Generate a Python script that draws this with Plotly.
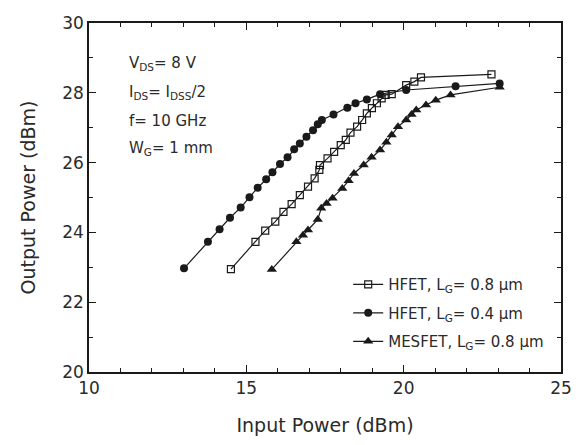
import plotly.graph_objects as go

# HFET, LG = 0.8 um (open squares)
hfet08_x = [14.51, 15.29, 15.60, 15.92, 16.18, 16.44, 16.70, 16.96, 17.17, 17.32, 17.34,
            17.58, 17.79, 18.00, 18.16, 18.31, 18.52, 18.68, 18.83, 18.99, 19.15, 19.30,
            19.43, 19.62, 20.08, 20.34, 20.55, 22.79]
hfet08_y = [22.95, 23.73, 24.05, 24.31, 24.59, 24.81, 25.07, 25.31, 25.55, 25.79, 25.93,
            26.12, 26.31, 26.50, 26.65, 26.86, 27.03, 27.22, 27.41, 27.56, 27.70, 27.84,
            27.94, 27.96, 28.22, 28.32, 28.44, 28.53]

# HFET, LG = 0.4 um (filled circles)
hfet04_x = [13.02, 13.78, 14.15, 14.48, 14.82, 15.10, 15.36, 15.63, 15.83, 16.07, 16.31,
            16.52, 16.70, 16.91, 17.12, 17.27, 17.40, 17.77, 18.21, 18.47, 18.83, 19.25,
            20.08, 21.65, 23.05]
hfet04_y = [22.97, 23.73, 24.09, 24.42, 24.71, 25.01, 25.28, 25.52, 25.72, 25.96, 26.15,
            26.38, 26.55, 26.74, 26.93, 27.10, 27.22, 27.38, 27.57, 27.70, 27.81, 27.96,
            28.08, 28.19, 28.27]

# MESFET, LG = 0.8 um (filled triangles)
mesfet_x = [15.81, 16.59, 16.80, 16.96, 17.27, 17.38, 17.55, 17.74, 18.05, 18.25, 18.42,
            18.73, 18.98, 19.25, 19.45, 19.62, 19.82, 20.08, 20.25, 20.40, 20.71, 21.02,
            21.49, 23.05]
mesfet_y = [22.94, 23.73, 23.92, 24.07, 24.37, 24.69, 24.83, 24.98, 25.26, 25.48, 25.69,
            25.93, 26.15, 26.36, 26.58, 26.79, 27.03, 27.22, 27.38, 27.51, 27.65, 27.79,
            27.94, 28.16]

series_names = ["HFET, L<sub>G</sub>= 0.8 µm",
                "HFET, L<sub>G</sub>= 0.4 µm",
                "MESFET, L<sub>G</sub>= 0.8 µm"]

x_ticks = [10, 15, 20, 25]
y_ticks = [20, 22, 24, 26, 28, 30]

FONT = "DejaVu Sans, Liberation Sans, Arial, sans-serif"
INK = "#1a1a1a"
TXT = "#2a2a2a"

fig = go.Figure()
fig.add_trace(go.Scatter(
    x=hfet08_x, y=hfet08_y, mode="lines+markers", name=series_names[0], legendgroup="a",
    line=dict(color=INK, width=1.2),
    marker=dict(symbol="square-open", size=7, color=INK, line=dict(width=1.2, color=INK))))
fig.add_trace(go.Scatter(
    x=hfet04_x, y=hfet04_y, mode="lines+markers", name=series_names[1], legendgroup="b",
    line=dict(color=INK, width=1.2),
    marker=dict(symbol="circle", size=8, color=INK)))
fig.add_trace(go.Scatter(
    x=mesfet_x, y=mesfet_y, mode="lines+markers", name=series_names[2], legendgroup="c",
    line=dict(color=INK, width=1.2),
    marker=dict(symbol="triangle-up", size=9, color=INK)))

ann_font = dict(family=FONT, size=15, color=TXT)
notes = [("V<sub>DS</sub>= 8 V", 28.85),
         ("I<sub>DS</sub>= I<sub>DSS</sub>/2", 28.0),
         ("f= 10 GHz", 27.2),
         ("W<sub>G</sub>= 1 mm", 26.4)]
for txt, yv in notes:
    fig.add_annotation(x=11.2, y=yv, text=txt, showarrow=False, xanchor="left",
                       yanchor="middle", font=ann_font)

axis_common = dict(
    showline=True, linecolor=INK, linewidth=1.5, mirror="ticks",
    ticks="inside", ticklen=7, tickwidth=1.2, tickcolor=INK,
    showgrid=False, zeroline=False,
    tickfont=dict(family=FONT, size=17, color=TXT),
)

fig.update_xaxes(range=[10, 25], tickvals=x_ticks, ticktext=[str(v) for v in x_ticks],
                 minor=dict(dtick=1, ticks="inside", ticklen=4, tickcolor=INK),
                 title=dict(text="Input Power (dBm)", font=dict(family=FONT, size=19, color=TXT),
                            standoff=22),
                 **axis_common)
fig.update_yaxes(range=[20, 30], tickvals=y_ticks, ticktext=[str(v) for v in y_ticks],
                 minor=dict(dtick=1, ticks="inside", ticklen=4, tickcolor=INK),
                 title=dict(text="Output Power (dBm)", font=dict(family=FONT, size=19, color=TXT),
                            standoff=22),
                 **axis_common)

fig.update_layout(
    width=584, height=445,
    margin=dict(l=89, r=15, t=23, b=73),
    paper_bgcolor="white", plot_bgcolor="white",
    showlegend=True,
    legend=dict(x=0.975, y=0.04, xanchor="right", yanchor="bottom",
                font=dict(family=FONT, size=15, color=TXT),
                bgcolor="rgba(0,0,0,0)", tracegroupgap=6, itemwidth=30),
)

fig.write_html("out.html")
